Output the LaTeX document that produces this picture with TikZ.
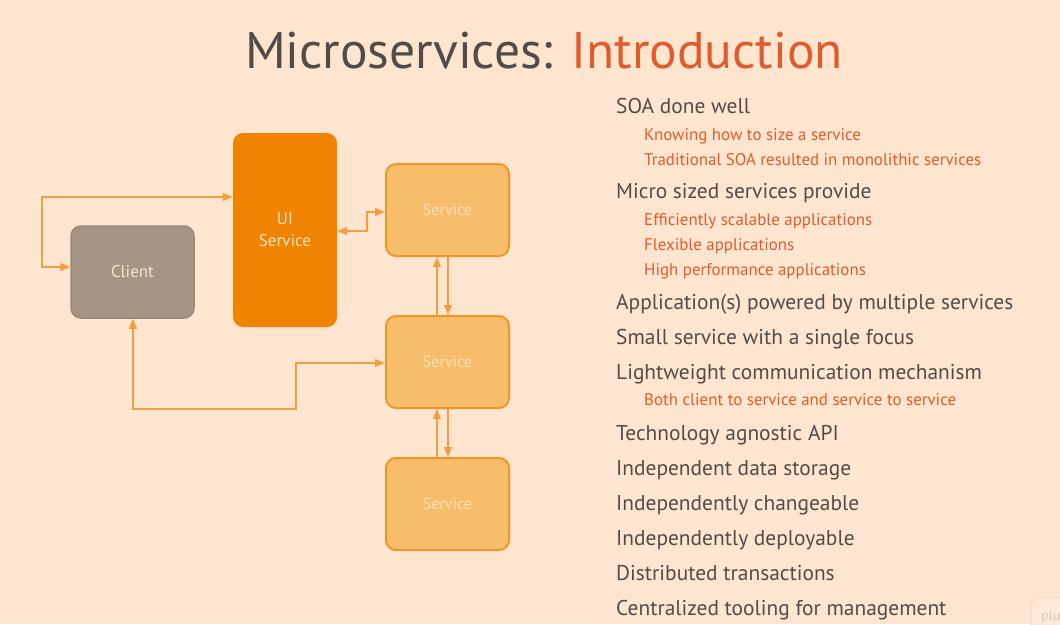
\documentclass[tikz,border=0pt]{standalone}
\usepackage{fontspec}
\setmainfont{PT Sans}
\usetikzlibrary{arrows.meta}

\definecolor{bg}{RGB}{253,229,207}
\definecolor{ink}{RGB}{82,76,73}
\definecolor{accent}{RGB}{224,92,44}
\definecolor{uiorange}{RGB}{240,131,0}
\definecolor{svcfill}{RGB}{246,190,106}
\definecolor{svcedge}{RGB}{240,150,40}
\definecolor{clientfill}{RGB}{166,149,133}
\definecolor{clientedge}{RGB}{152,137,124}
\definecolor{wire}{RGB}{240,160,64}
\definecolor{boxtext}{RGB}{252,226,200}
\definecolor{faintext}{RGB}{251,222,184}

\tikzset{
  box/.style={rectangle, rounded corners=10pt, inner sep=0pt, align=center,
              minimum width=123pt, minimum height=92pt},
  clientbox/.style={box, fill=clientfill, draw=clientedge, line width=1.5pt,
                    text=boxtext, font=\fontsize{17}{20}\selectfont},
  uibox/.style={box, fill=uiorange, minimum width=104pt, minimum height=194pt,
                text=boxtext, font=\fontsize{17}{22}\selectfont},
  svcbox/.style={box, fill=svcfill, draw=svcedge, line width=2pt,
                 text=faintext, font=\fontsize{16}{20}\selectfont},
  link/.style={draw=wire, line width=1.4pt},
  tip/.style={-{Triangle[length=10pt,width=8pt]}},
  tips/.style={{Triangle[length=10pt,width=8pt]}-{Triangle[length=10pt,width=8pt]}},
  mainitem/.style={anchor=base west, inner sep=0pt, text=ink,
                   font=\fontsize{21.4}{24}\selectfont},
  subitem/.style={anchor=base west, inner sep=0pt, text=accent,
                  font=\fontsize{16.9}{20}\selectfont},
}

\begin{document}
\begin{tikzpicture}[x=1pt, y=-1pt]
  % page and background
  \useasboundingbox (0,0) rectangle (1060,624);
  \fill[bg] (0,0) rectangle (1060,624);

  % title
  \node[anchor=base, inner sep=0pt, font=\fontsize{51.5}{58}\selectfont] (title) at (544,68)
    {\textcolor{ink}{Microservices:} \textcolor{accent}{Introduction}};

  % boxes
  \node[clientbox] (client) at (132.5,272) {Client};
  \node[uibox]     (ui)     at (285,230)   {UI\\Service};
  \node[svcbox]    (s1)     at (447.5,210) {Service};
  \node[svcbox]    (s2)     at (447.5,362) {Service};
  \node[svcbox]    (s3)     at (447.5,504) {Service};

  % connector bends
  \coordinate (cA) at (42,197);
  \coordinate (cB) at (42,267);
  \coordinate (cC) at (367,231);
  \coordinate (cD) at (367,212);
  \coordinate (cE) at (133,409);
  \coordinate (cF) at (296,409);
  \coordinate (cG) at (296,363);

  % client <-> UI service
  \draw[link, tips] (ui.west |- cA) -- (cA) -- (cB) -- (client.west |- cB);
  % UI service <-> service
  \draw[link, tips] (ui.east |- cC) -- (cC) -- (cD) -- (s1.west |- cD);
  % service <-> client
  \draw[link, tips] (s2.west |- cG) -- (cG) -- (cF) -- (cE) -- (client.south -| cE);
  % service chain
  \draw[link, tip] (s2.north -| 437,0) -- (s1.south -| 437,0);
  \draw[link, tip] (s1.south -| 448,0) -- (s2.north -| 448,0);
  \draw[link, tip] (s3.north -| 437,0) -- (s2.south -| 437,0);
  \draw[link, tip] (s2.south -| 448,0) -- (s3.north -| 448,0);

  % bullet list
  \node[mainitem] (m1)  at (616,113) {SOA done well};
  \node[subitem]  (s11) at (644,140) {Knowing how to size a service};
  \node[subitem]  (s12) at (644,165) {Traditional SOA resulted in monolithic services};
  \node[mainitem] (m2)  at (616,198) {Micro sized services provide};
  \node[subitem]  (s21) at (644,225) {Efficiently scalable applications};
  \node[subitem]  (s22) at (644,250) {Flexible applications};
  \node[subitem]  (s23) at (644,275) {High performance applications};
  \node[mainitem] (m3)  at (616,309) {Application(s) powered by multiple services};
  \node[mainitem] (m4)  at (616,344) {Small service with a single focus};
  \node[mainitem] (m5)  at (616,379) {Lightweight communication mechanism};
  \node[subitem]  (s51) at (644,405) {Both client to service and service to service};
  \node[mainitem] (m6)  at (616,440) {Technology agnostic API};
  \node[mainitem] (m7)  at (616,475) {Independent data storage};
  \node[mainitem] (m8)  at (616,510) {Independently changeable};
  \node[mainitem] (m9)  at (616,545) {Independently deployable};
  \node[mainitem] (m10) at (616,580) {Distributed transactions};
  \node[mainitem] (m11) at (616,615) {Centralized tooling for management};

  % corner badge, cut off by the page edge
  \begin{scope}
    \clip (0,0) rectangle (1060,624);
    \draw[rounded corners=8pt, draw={rgb,255:red,243;green,220;blue,200}, line width=1pt,
          fill={rgb,255:red,254;green,233;blue,215}] (1031,598) rectangle (1090,660);
    \node[anchor=base west, inner sep=0pt, text={rgb,255:red,214;green,200;blue,186},
          font=\fontsize{14}{16}\selectfont] (badge) at (1041,620) {plu};
  \end{scope}
\end{tikzpicture}
\end{document}
